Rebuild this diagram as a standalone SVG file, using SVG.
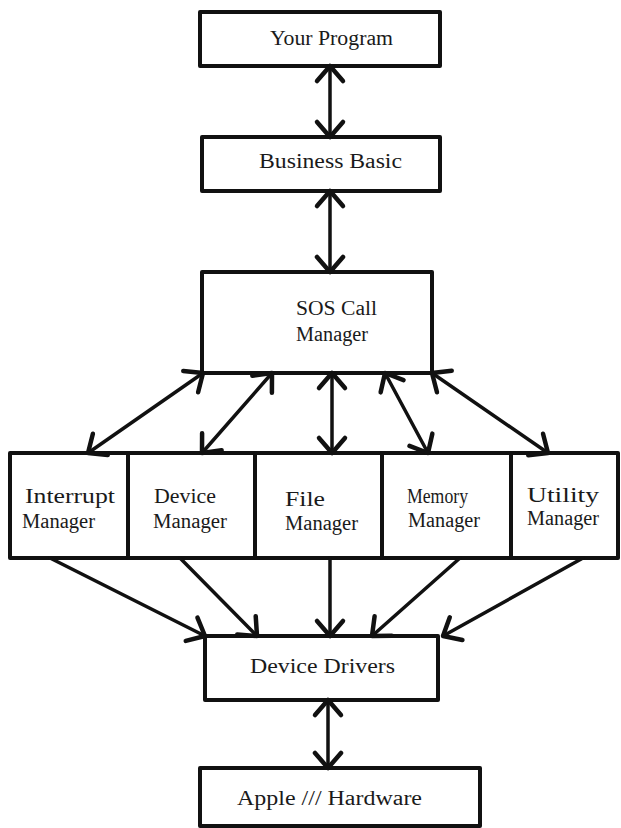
<svg xmlns="http://www.w3.org/2000/svg" width="621" height="828" viewBox="0 0 621 828">
  <style>
    .box { fill: #fff; stroke: #111; stroke-width: 4; stroke-linejoin: round; }
    .lbl { font-family: "Liberation Serif", "DejaVu Serif", serif; font-size: 20px; fill: #1a1a1a; }
    .wire { fill: none; stroke: #111; stroke-width: 3.5; stroke-linecap: round; }
    .two { marker-start: url(#head); marker-end: url(#head); }
    .one { marker-end: url(#head); }
  </style>
  <defs>
    <!-- open V arrowhead, tip at the path end -->
    <marker id="head" viewBox="-20 -20 40 40" refX="0" refY="0" markerWidth="40" markerHeight="40" markerUnits="userSpaceOnUse" orient="auto-start-reverse">
      <path d="M -15 -13 L 0 0 L -15 13" fill="none" stroke="#111" stroke-width="4.5" stroke-linecap="round" stroke-linejoin="round"/>
    </marker>
  </defs>
  <rect width="621" height="828" fill="#fff"/>

  <g id="your-program">
    <rect class="box" x="200" y="12" width="240" height="54"/>
    <text class="lbl" x="270" y="45" textLength="123" lengthAdjust="spacingAndGlyphs">Your Program</text>
  </g>

  <g id="business-basic">
    <rect class="box" x="202" y="137" width="238" height="54"/>
    <text class="lbl" x="259" y="168" textLength="143" lengthAdjust="spacingAndGlyphs">Business Basic</text>
  </g>

  <g id="sos-call-manager">
    <rect class="box" x="202" y="272" width="230" height="101"/>
    <text class="lbl" x="296" y="315" textLength="81" lengthAdjust="spacingAndGlyphs">SOS Call</text>
    <text class="lbl" x="296" y="341" textLength="72" lengthAdjust="spacingAndGlyphs">Manager</text>
  </g>

  <g id="interrupt-manager">
    <rect class="box" x="10" y="453" width="118" height="105"/>
    <text class="lbl" x="25" y="503" textLength="90" lengthAdjust="spacingAndGlyphs">Interrupt</text>
    <text class="lbl" x="22" y="528" textLength="73" lengthAdjust="spacingAndGlyphs">Manager</text>
  </g>

  <g id="device-manager">
    <rect class="box" x="128" y="453" width="127" height="105"/>
    <text class="lbl" x="154" y="503" textLength="62" lengthAdjust="spacingAndGlyphs">Device</text>
    <text class="lbl" x="153" y="528" textLength="74" lengthAdjust="spacingAndGlyphs">Manager</text>
  </g>

  <g id="file-manager">
    <rect class="box" x="255" y="453" width="127" height="105"/>
    <text class="lbl" x="285" y="506" textLength="40" lengthAdjust="spacingAndGlyphs">File</text>
    <text class="lbl" x="285" y="530" textLength="73" lengthAdjust="spacingAndGlyphs">Manager</text>
  </g>

  <g id="memory-manager">
    <rect class="box" x="382" y="453" width="129" height="105"/>
    <text class="lbl" x="407" y="503" textLength="61" lengthAdjust="spacingAndGlyphs">Memory</text>
    <text class="lbl" x="408" y="527" textLength="72" lengthAdjust="spacingAndGlyphs">Manager</text>
  </g>

  <g id="utility-manager">
    <rect class="box" x="511" y="453" width="107" height="105"/>
    <text class="lbl" x="527" y="502" textLength="72" lengthAdjust="spacingAndGlyphs">Utility</text>
    <text class="lbl" x="527" y="525" textLength="72" lengthAdjust="spacingAndGlyphs">Manager</text>
  </g>

  <g id="device-drivers">
    <rect class="box" x="205" y="636" width="233" height="64"/>
    <text class="lbl" x="250" y="673" textLength="145" lengthAdjust="spacingAndGlyphs">Device Drivers</text>
  </g>

  <g id="apple-hardware">
    <rect class="box" x="200" y="768" width="280" height="58"/>
    <text class="lbl" x="237" y="805" textLength="185" lengthAdjust="spacingAndGlyphs">Apple /// Hardware</text>
  </g>

  <g id="connectors">
    <!-- two-way links down the stack -->
    <line class="wire two" x1="330" y1="66" x2="330" y2="137"/>
    <line class="wire two" x1="330" y1="191" x2="330" y2="272"/>
    <!-- call manager to each manager -->
    <line class="wire two" x1="203" y1="373" x2="88" y2="453"/>
    <line class="wire two" x1="272" y1="373" x2="202" y2="453"/>
    <line class="wire two" x1="332" y1="373" x2="332" y2="453"/>
    <line class="wire two" x1="385" y1="373" x2="428" y2="453"/>
    <line class="wire two" x1="432" y1="373" x2="548" y2="453"/>
    <!-- managers down to the drivers -->
    <line class="wire one" x1="50" y1="558" x2="205" y2="636"/>
    <line class="wire one" x1="180" y1="558" x2="257" y2="636"/>
    <line class="wire one" x1="330" y1="558" x2="330" y2="636"/>
    <line class="wire one" x1="460" y1="558" x2="372" y2="636"/>
    <line class="wire one" x1="583" y1="558" x2="443" y2="636"/>
    <!-- drivers to hardware -->
    <line class="wire two" x1="328" y1="700" x2="328" y2="768"/>
  </g>
</svg>
